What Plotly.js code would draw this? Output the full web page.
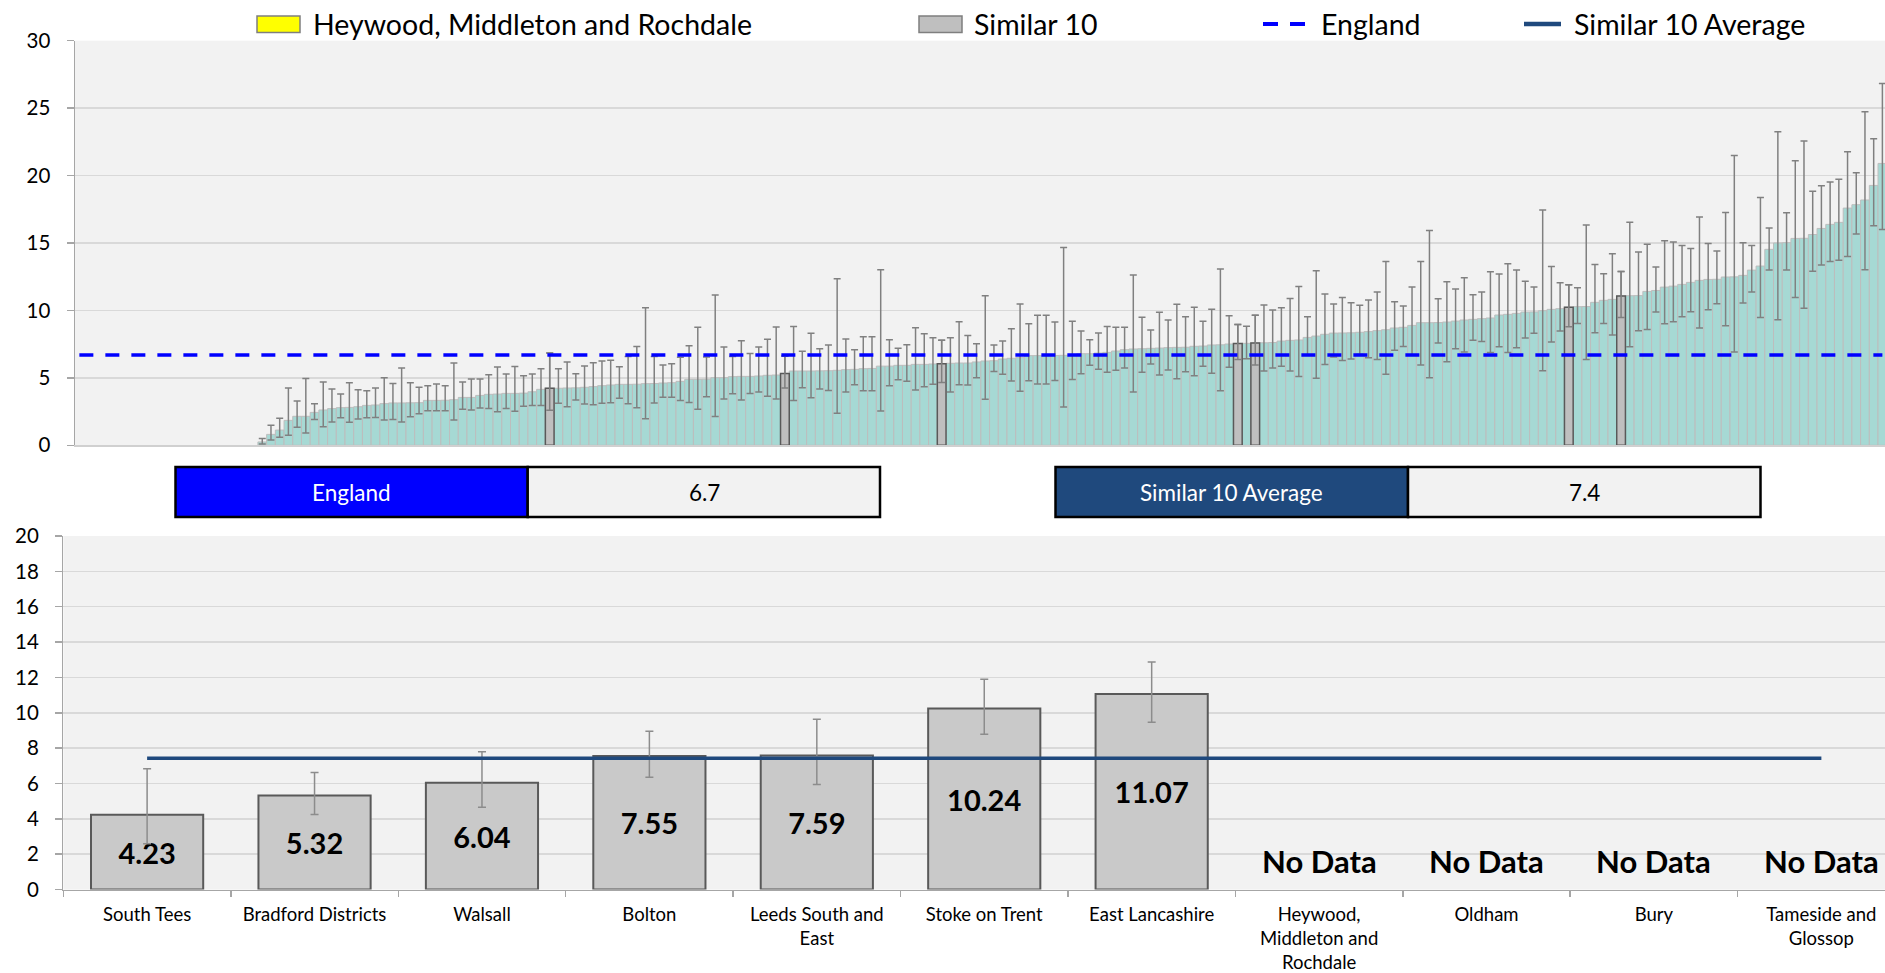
<!DOCTYPE html>
<html>
<head>
<meta charset="utf-8">
<script src="https://cdn.plot.ly/plotly-3.0.1.min.js"></script>
<style>
  html, body { margin: 0; padding: 0; background: #ffffff; }
  #chart { width: 1885px; height: 973px; }
</style>
</head>
<body>
<div id="chart"></div>
<script>
// ---------------- DATA ----------------
// National ranking (all CCGs, sorted ascending). The first CCGs have no data.
const noDataCount = 21;
const nationalValues = [
  0.25, 0.81, 1.13, 1.85, 2.15, 2.15, 2.44, 2.62, 2.72, 2.79, 2.81, 2.86, 2.96, 2.99, 3.09, 3.14, 3.14, 3.15, 3.16, 3.33,
  3.33, 3.34, 3.38, 3.55, 3.55, 3.70, 3.78, 3.80, 3.85, 3.85, 3.87, 3.97, 4.15, 4.23, 4.23, 4.25, 4.26, 4.30, 4.35, 4.42,
  4.47, 4.52, 4.52, 4.53, 4.57, 4.58, 4.62, 4.64, 4.74, 4.89, 4.89, 4.90, 5.01, 5.01, 5.09, 5.11, 5.11, 5.14, 5.19, 5.21,
  5.32, 5.51, 5.51, 5.51, 5.52, 5.53, 5.56, 5.61, 5.63, 5.68, 5.70, 5.87, 5.87, 5.93, 5.93, 6.00, 6.00, 6.03, 6.04, 6.08,
  6.10, 6.10, 6.18, 6.25, 6.27, 6.40, 6.45, 6.50, 6.65, 6.65, 6.66, 6.66, 6.67, 6.74, 6.79, 6.79, 6.84, 6.89, 6.99, 7.09,
  7.14, 7.16, 7.19, 7.21, 7.24, 7.26, 7.27, 7.34, 7.36, 7.44, 7.45, 7.51, 7.55, 7.56, 7.59, 7.60, 7.62, 7.73, 7.78, 7.81,
  8.00, 8.10, 8.23, 8.32, 8.33, 8.34, 8.38, 8.43, 8.50, 8.57, 8.70, 8.75, 8.89, 9.09, 9.09, 9.10, 9.14, 9.21, 9.29, 9.34,
  9.39, 9.44, 9.66, 9.71, 9.78, 9.88, 9.89, 9.98, 10.08, 10.13, 10.24, 10.28, 10.29, 10.60, 10.75, 10.82, 11.07, 11.09, 11.10, 11.41,
  11.48, 11.73, 11.80, 11.93, 12.08, 12.23, 12.30, 12.31, 12.48, 12.49, 12.60, 12.99, 13.29, 14.53, 15.00, 15.02, 15.34, 15.35, 15.63, 16.08,
  16.38, 16.53, 17.59, 17.84, 18.19, 19.27, 20.90
];
const nationalLower = [
  0.10, 0.39, 0.59, 0.74, 1.33, 0.91, 1.92, 1.38, 1.73, 2.05, 1.70, 1.95, 2.05, 2.07, 1.88, 1.92, 1.73, 2.12, 2.34, 2.57,
  2.57, 2.57, 1.88, 2.67, 2.62, 2.77, 2.72, 2.49, 2.72, 2.52, 2.89, 2.96, 2.96, 2.60, 3.11, 2.86, 3.36, 3.06, 3.01, 3.11,
  3.16, 3.48, 3.08, 2.79, 1.97, 3.13, 3.56, 3.56, 3.33, 3.18, 2.67, 3.60, 2.14, 3.43, 3.82, 3.36, 3.85, 3.95, 3.63, 3.43,
  4.25, 3.33, 4.27, 3.53, 4.17, 4.07, 2.37, 3.95, 4.49, 4.05, 4.05, 2.54, 4.42, 4.86, 4.74, 4.10, 4.35, 4.52, 4.66, 3.95,
  4.49, 4.47, 5.01, 3.41, 5.48, 5.26, 4.77, 4.00, 4.79, 4.54, 4.54, 4.81, 2.84, 4.87, 5.31, 5.93, 5.63, 5.41, 5.56, 5.73,
  3.95, 5.41, 6.03, 5.21, 5.58, 4.94, 5.46, 5.16, 5.86, 5.34, 4.05, 5.78, 6.36, 6.42, 5.95, 5.51, 5.73, 5.86, 5.51, 5.11,
  6.69, 4.97, 6.00, 6.55, 6.28, 6.40, 6.75, 6.50, 6.37, 5.26, 7.04, 7.33, 6.69, 5.95, 5.01, 7.58, 6.20, 7.16, 6.91, 7.78,
  7.70, 6.89, 7.31, 6.89, 7.24, 7.95, 8.30, 5.53, 7.66, 8.47, 8.79, 9.04, 6.37, 8.35, 9.04, 8.17, 9.47, 7.31, 8.49, 8.59,
  9.88, 9.01, 9.16, 9.53, 9.90, 8.69, 10.05, 10.50, 8.87, 6.91, 10.56, 11.36, 9.48, 12.99, 9.31, 12.99, 10.96, 10.17, 12.90, 13.36,
  13.63, 13.73, 14.00, 15.66, 13.02, 16.28, 16.00
];
const nationalUpper = [
  0.50, 1.48, 2.00, 4.25, 3.28, 4.96, 3.09, 4.69, 4.17, 3.80, 4.64, 4.12, 4.05, 4.25, 5.01, 4.59, 5.73, 4.64, 4.30, 4.42,
  4.54, 4.42, 6.10, 4.69, 4.91, 4.91, 5.23, 5.80, 5.28, 5.85, 5.16, 5.28, 5.68, 6.84, 5.68, 6.18, 5.31, 5.88, 6.13, 6.25,
  6.30, 5.83, 6.59, 7.33, 10.20, 6.59, 5.95, 6.05, 6.52, 7.38, 8.75, 6.54, 11.14, 7.28, 6.59, 7.75, 6.81, 7.28, 7.87, 8.77,
  6.63, 8.80, 6.97, 8.30, 7.16, 7.43, 12.35, 7.88, 7.09, 8.05, 8.05, 13.02, 7.83, 7.19, 7.46, 8.72, 8.27, 7.98, 7.79, 7.98,
  9.16, 8.15, 7.53, 11.09, 7.43, 7.73, 8.64, 10.47, 9.02, 9.65, 9.65, 9.14, 14.67, 9.19, 8.47, 7.83, 8.33, 8.80, 8.75, 8.75,
  12.62, 9.49, 8.55, 9.86, 9.29, 10.45, 9.54, 10.23, 9.19, 10.08, 13.07, 9.61, 8.95, 8.82, 9.64, 10.40, 10.03, 10.20, 10.89, 11.78,
  9.54, 12.95, 11.21, 10.48, 10.95, 10.57, 10.38, 10.77, 11.36, 13.63, 10.65, 10.33, 11.73, 13.63, 15.93, 10.87, 12.13, 11.59, 12.42, 11.17,
  11.36, 12.87, 12.70, 13.47, 13.00, 12.16, 11.73, 17.44, 13.25, 12.05, 11.90, 11.68, 16.33, 13.41, 12.72, 14.20, 12.88, 16.53, 14.33, 14.90,
  13.22, 15.17, 15.07, 14.82, 14.60, 16.92, 14.97, 14.40, 17.27, 21.49, 15.02, 14.82, 18.38, 16.11, 23.25, 17.24, 21.10, 22.56, 18.83, 19.25,
  19.52, 19.72, 21.77, 20.21, 24.73, 22.73, 26.83
];

// Similar 10 CCGs
const similarNames = ["South Tees", "Bradford Districts", "Walsall", "Bolton", "Leeds South and<br>East",
  "Stoke on Trent", "East Lancashire", "Heywood,<br>Middleton and<br>Rochdale", "Oldham", "Bury", "Tameside and<br>Glossop"];
const similarValues = [4.23, 5.32, 6.04, 7.55, 7.59, 10.24, 11.07, null, null, null, null];
const similarLower  = [2.60, 4.25, 4.66, 6.36, 5.95, 8.79, 9.47, null, null, null, null];
const similarUpper  = [6.84, 6.63, 7.79, 8.95, 9.64, 11.90, 12.88, null, null, null, null];
// position of each Similar 10 CCG in the national ranking (0-based)
const similarRank   = [54, 81, 99, 133, 135, 171, 177, null, null, null, null];

const englandValue = 6.7;
const similarAverage = 7.43;

const legendLabels = ["Heywood, Middleton and Rochdale", "Similar 10", "England", "Similar 10 Average"];

// ---------------- BUILD ----------------
const pad = Array(noDataCount).fill(null);
const natY = pad.concat(nationalValues);
const natLo = pad.concat(nationalLower);
const natHi = pad.concat(nationalUpper);
const natX = natY.map((_, i) => i);
const natErrPlus = natY.map((v, i) => v == null ? null : +(natHi[i] - v).toFixed(3));
const natErrMinus = natY.map((v, i) => v == null ? null : +(v - natLo[i]).toFixed(3));

const simIdx = similarValues.map((v, i) => i).filter(i => similarValues[i] != null);
const greyX = simIdx.map(i => similarRank[i]);
const greyY = simIdx.map(i => similarValues[i]);
const greyPlus = simIdx.map(i => +(similarUpper[i] - similarValues[i]).toFixed(3));
const greyMinus = simIdx.map(i => +(similarValues[i] - similarLower[i]).toFixed(3));

const FONT = 'Lato, "Open Sans", sans-serif';
const TEAL = '#A6D9D4';

const traces = [
  {
    type: 'bar', x: natX, y: natY, xaxis: 'x', yaxis: 'y', width: 1, name: 'All CCGs',
    marker: { color: TEAL, line: { color: '#BDBDBD', width: 1 } },
    error_y: { type: 'data', symmetric: false, array: natErrPlus, arrayminus: natErrMinus,
               color: '#808080', thickness: 1.5, width: 3.5 },
    showlegend: false, hoverinfo: 'skip'
  },
  {
    type: 'bar', x: greyX, y: greyY, xaxis: 'x', yaxis: 'y', width: 1, name: legendLabels[1],
    marker: { color: '#BFBFBF', line: { color: '#595959', width: 1.5 } },
    error_y: { type: 'data', symmetric: false, array: greyPlus, arrayminus: greyMinus,
               color: '#808080', thickness: 1.5, width: 3.5 },
    showlegend: false, hoverinfo: 'skip'
  },
  {
    type: 'scatter', mode: 'lines', x: natX, y: natX.map(() => englandValue), xaxis: 'x', yaxis: 'y',
    name: legendLabels[2], line: { color: '#0000FF', width: 3.5, dash: '14px,12px' },
    showlegend: false, hoverinfo: 'skip'
  },
  {
    type: 'bar', x: similarNames, y: similarValues, xaxis: 'x2', yaxis: 'y2', width: 0.67, name: 'Similar 10 values',
    marker: { color: '#C9C9C9', line: { color: '#595959', width: 2 } },
    error_y: { type: 'data', symmetric: false,
               array: similarValues.map((v, i) => v == null ? null : +(similarUpper[i] - v).toFixed(3)),
               arrayminus: similarValues.map((v, i) => v == null ? null : +(v - similarLower[i]).toFixed(3)),
               color: '#8C8C8C', thickness: 1.5, width: 4 },
    text: similarValues.map(v => v == null ? '' : v.toFixed(2)),
    textposition: 'inside', insidetextanchor: 'middle', constraintext: 'none', textangle: 0,
    textfont: { family: FONT, size: 29, color: '#000000', weight: 'bold' },
    showlegend: false, hoverinfo: 'skip'
  },
  {
    type: 'scatter', mode: 'lines', x: similarNames, y: similarNames.map(() => similarAverage),
    xaxis: 'x2', yaxis: 'y2', name: legendLabels[3],
    line: { color: '#1F497D', width: 3.5 }, showlegend: false, hoverinfo: 'skip'
  }
];

const W = 1885, H = 973;
const px = v => v / W;
const py = v => 1 - v / H;

const annotations = [];
// No Data labels
similarValues.forEach((v, i) => {
  if (v == null) {
    annotations.push({ x: similarNames[i], y: 0, xref: 'x2', yref: 'y2', yanchor: 'middle', xanchor: 'center',
      yshift: 28.5, text: 'No Data', showarrow: false,
      font: { family: FONT, size: 31, color: '#000000', weight: 'bold' } });
  }
});
// key boxes text
const boxY = py(492);
function boxText(xc, txt, color) {
  annotations.push({ xref: 'paper', yref: 'paper', x: px(xc), y: boxY, xanchor: 'center', yanchor: 'middle',
    text: txt, showarrow: false, font: { family: FONT, size: 22.5, color: color } });
}
boxText(351.6, 'England', '#FFFFFF');
boxText(704, englandValue.toFixed(1), '#000000');
boxText(1231.8, 'Similar 10 Average', '#FFFFFF');
boxText(1584.3, similarAverage.toFixed(1), '#000000');

// legend texts
const legendTextX = [312.5, 974, 1320.5, 1573.5];
legendLabels.forEach((lab, i) => {
  annotations.push({ xref: 'paper', yref: 'paper', x: px(legendTextX[i] - 2), y: py(24), xanchor: 'left', yanchor: 'middle',
    text: lab, showarrow: false, font: { family: FONT, size: 28.5, color: '#000000' } });
});

const shapes = [
  { type: 'rect', xref: 'paper', yref: 'paper', x0: px(175.5), x1: px(527.7), y0: py(517), y1: py(467),
    fillcolor: '#0000FF', line: { color: '#000000', width: 2.5 } },
  { type: 'rect', xref: 'paper', yref: 'paper', x0: px(527.7), x1: px(880), y0: py(517), y1: py(467),
    fillcolor: '#F2F2F2', line: { color: '#000000', width: 2.5 } },
  { type: 'rect', xref: 'paper', yref: 'paper', x0: px(1055.5), x1: px(1408), y0: py(517), y1: py(467),
    fillcolor: '#1F497D', line: { color: '#000000', width: 2.5 } },
  { type: 'rect', xref: 'paper', yref: 'paper', x0: px(1408), x1: px(1760.5), y0: py(517), y1: py(467),
    fillcolor: '#F2F2F2', line: { color: '#000000', width: 2.5 } },
  // legend symbols
  { type: 'rect', xref: 'paper', yref: 'paper', x0: px(257), x1: px(300), y0: py(32.5), y1: py(16),
    fillcolor: '#FFFF00', line: { color: '#7F7F7F', width: 1.5 } },
  { type: 'rect', xref: 'paper', yref: 'paper', x0: px(919), x1: px(962), y0: py(32.5), y1: py(16),
    fillcolor: '#BFBFBF', line: { color: '#7F7F7F', width: 1.5 } },
  { type: 'line', xref: 'paper', yref: 'paper', x0: px(1263), x1: px(1306), y0: py(24), y1: py(24),
    line: { color: '#0000FF', width: 4, dash: '15px,12px' } },
  { type: 'line', xref: 'paper', yref: 'paper', x0: px(1524), x1: px(1561), y0: py(24), y1: py(24),
    line: { color: '#1F497D', width: 4.5 } }
];

const layout = {
  width: W, height: H,
  margin: { l: 0, r: 0, t: 0, b: 0 },
  paper_bgcolor: '#FFFFFF', plot_bgcolor: '#F2F2F2',
  font: { family: FONT, color: '#000000' },
  showlegend: false,
  barmode: 'overlay', bargap: 0,
  xaxis: {
    domain: [px(75), 1], range: [-0.5, 207.3], anchor: 'y',
    showticklabels: false, ticks: '', showgrid: false, zeroline: false,
    showline: true, linecolor: '#D0D0D0', linewidth: 1.5, fixedrange: true
  },
  yaxis: {
    domain: [py(445.3), py(40.7)], range: [0, 30], dtick: 5, anchor: 'x',
    showgrid: true, gridcolor: '#D9D9D9', gridwidth: 1.5, zeroline: false,
    showline: true, linecolor: '#A6A6A6', linewidth: 1.5,
    ticks: 'outside', ticklen: 7, tickcolor: '#A6A6A6', tickwidth: 1.5, ticklabelstandoff: 12,
    tickfont: { family: FONT, size: 20.5, color: '#000000' }, fixedrange: true
  },
  xaxis2: {
    domain: [px(63.4), 1], range: [-0.5, 10.38], anchor: 'y2', type: 'category',
    tickson: 'boundaries', ticks: 'outside', ticklen: 6, tickcolor: '#A6A6A6', tickwidth: 1.5,
    showline: true, linecolor: '#A6A6A6', linewidth: 1.5, showgrid: false, zeroline: false,
    ticklabelstandoff: 8,
    tickfont: { family: FONT, size: 18.5, color: '#000000' }, tickangle: 0, fixedrange: true
  },
  yaxis2: {
    domain: [py(889.6), py(536)], range: [0, 20], dtick: 2, anchor: 'x2',
    showgrid: true, gridcolor: '#D9D9D9', gridwidth: 1.5, zeroline: false,
    showline: true, linecolor: '#A6A6A6', linewidth: 1.5,
    ticks: 'outside', ticklen: 7, tickcolor: '#A6A6A6', tickwidth: 1.5, ticklabelstandoff: 12,
    tickfont: { family: FONT, size: 20.5, color: '#000000' }, fixedrange: true
  },
  annotations: annotations,
  shapes: shapes
};

Plotly.newPlot('chart', traces, layout, { displayModeBar: false, staticPlot: true });
</script>
</body>
</html>
